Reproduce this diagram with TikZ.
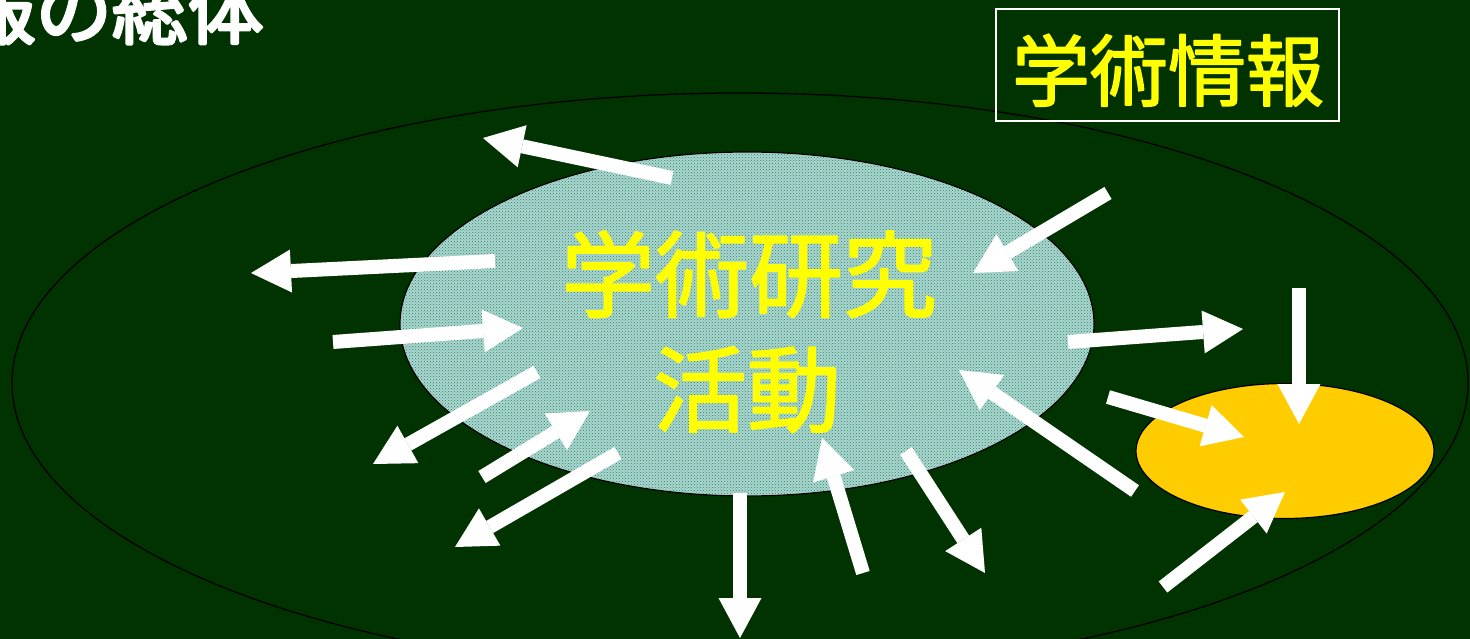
\documentclass[tikz,border=0pt]{standalone}
\usepackage{fontspec}
\usetikzlibrary{arrows.meta,shapes.geometric,patterns}
\newfontfamily\cjk{Noto Sans CJK JP}
\newcommand\heavytext[2]{\special{pdf:code 2 Tr 1 j #1 w}#2\special{pdf:code 0 Tr 0 j 0.4 w}}
\definecolor{bg}{HTML}{003300}
\definecolor{ylw}{HTML}{FFFF00}
\definecolor{gold}{HTML}{FFCC00}
\definecolor{teal}{HTML}{A8D8D2}
\definecolor{speck}{HTML}{3F7A5C}
\tikzset{
  blockarrow/.style={draw=white, line width=14pt,
    -{Triangle[length=40pt,width=43pt,line width=0pt]}},
  oval/.style={ellipse, inner sep=0pt, draw=black},
}
\begin{document}
\begin{tikzpicture}[x=1pt,y=-1pt]
\useasboundingbox (0,0) rectangle (1470,639);
\fill[bg] (0,0) rectangle (1470,639);
% outer ellipse
\node[oval, line width=1.3pt, minimum width=1456pt, minimum height=580pt] (outer) at (740,383) {};
% inner ellipse
\node[oval, line width=1.2pt, fill=teal, minimum width=694pt, minimum height=344pt] (inner) at (747,324) {};
\node[ellipse, inner sep=0pt, pattern=crosshatch dots, pattern color=speck, minimum width=692pt, minimum height=342pt] (innertex) at (747,324) {};
% gold ellipse
\node[oval, line width=1.2pt, fill=gold, minimum width=298pt, minimum height=135pt] (gold) at (1285,451) {};
% title
\node[anchor=base east, inner sep=0pt, text=white, font=\cjk\fontsize{76}{80}\selectfont] (title) at (264,38) {\heavytext{3}{報の総体}};
% box
\node[draw=white, line width=1.5pt, minimum width=343pt, minimum height=112pt, inner sep=0pt] (box) at (1167.5,65) {};
\node[anchor=base, inner sep=0pt, text=ylw, font=\cjk\fontsize{78}{80}\selectfont] (boxtext) at (1168,100) {\heavytext{1.6}{学術情報}};
% center text
\node[anchor=base, inner sep=0pt, text=ylw, font=\cjk\fontsize{94}{110}\selectfont] (t1) at (749,310) {\heavytext{1.6}{学術研究}};
\node[anchor=base, inner sep=0pt, text=ylw, font=\cjk\fontsize{94}{110}\selectfont] (t2) at (747,425) {\heavytext{1.6}{活動}};
% arrow end points
\coordinate (a1s) at (672,178);  \coordinate (a1e) at (483,138);
\coordinate (a2s) at (495,261);  \coordinate (a2e) at (251,273);
\coordinate (a3s) at (333,342);  \coordinate (a3e) at (523,328);
\coordinate (a4s) at (537,372);  \coordinate (a4e) at (373,464);
\coordinate (a5s) at (482,477);  \coordinate (a5e) at (590,411);
\coordinate (a6s) at (618,453);  \coordinate (a6e) at (455,547);
\coordinate (a7s) at (740,493);  \coordinate (a7e) at (740,638);
\coordinate (a8s) at (863,573);  \coordinate (a8e) at (822,438);
\coordinate (a9s) at (906,451);  \coordinate (a9e) at (985,573);
\coordinate (a10s) at (1108,193); \coordinate (a10e) at (973,273);
\coordinate (a11s) at (1068,342); \coordinate (a11e) at (1243,329);
\coordinate (a12s) at (1135,491); \coordinate (a12e) at (959,370);
\coordinate (a13s) at (1299,288); \coordinate (a13e) at (1299,424);
\coordinate (a14s) at (1108,397); \coordinate (a14e) at (1244,437);
\coordinate (a15s) at (1163,587); \coordinate (a15e) at (1285,492);
\foreach \i in {1,...,15} {\draw[blockarrow] (a\i s) -- (a\i e);}
\end{tikzpicture}
\end{document}
